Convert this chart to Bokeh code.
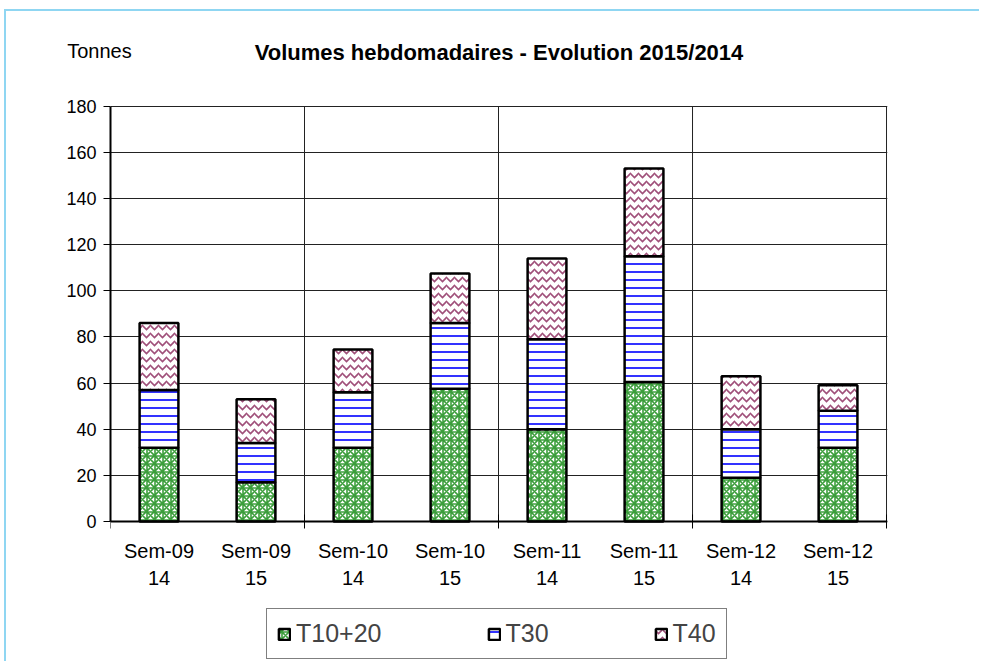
import math
from bokeh.plotting import figure
from bokeh.models import (ColumnDataSource, FixedTicker, Legend, LegendItem, Range1d,
                          LinearAxis, Span)
from bokeh.core.properties import value
from bokeh.embed import file_html
from bokeh.resources import INLINE

week_names = ["Sem-09", "Sem-09", "Sem-10", "Sem-10", "Sem-11", "Sem-11", "Sem-12", "Sem-12"]
year_names = ["14", "15", "14", "15", "14", "15", "14", "15"]
t1020 = [32, 17, 32, 57.5, 40, 60.5, 19, 32]
t30 = [25, 17, 24, 28.5, 39, 54.5, 21, 16]
t40 = [29, 19, 18.5, 21.5, 35, 38, 23, 11]
series = ["T10+20", "T30", "T40"]
y_ticks = [0, 20, 40, 60, 80, 100, 120, 140, 160, 180]
title_text = "Volumes hebdomadaires - Evolution 2015/2014"
unit_text = "Tonnes"

FONT = "Liberation Sans"
n = len(week_names)
xpos = [i + 0.5 for i in range(n)]
bounds = list(range(0, n + 1, 2))          # week boundaries (ticks / vertical lines)

# vertical layout: value axis occupies 416 px, area below holds labels and legend
Y_TOP = 180.3
UPX = Y_TOP / 416.0                         # data units per pixel
Y_BOTTOM = -140 * UPX

src = ColumnDataSource(data={"x": xpos, "T10+20": t1020, "T30": t30, "T40": t40})

p = figure(frame_width=777, frame_height=556, output_backend="svg", toolbar_location=None,
           x_range=Range1d(0, n + 0.01), y_range=Range1d(Y_BOTTOM, Y_TOP),
           x_axis_location=None,
           min_border_left=104, min_border_right=92, min_border_top=94, min_border_bottom=0)
p.title_location = None
p.outline_line_color = None
p.styles = {"margin-left": "4px", "margin-top": "9px",
            "border-left": "2px solid #8fd6f2", "border-top": "2px solid #8fd6f2"}

# vertical grid lines at week boundaries and right border, limited to the value area
inner = bounds[1:]
p.segment(x0=inner, y0=[y_ticks[0]] * len(inner), x1=inner, y1=[y_ticks[-1]] * len(inner),
          line_color="#222222", line_width=1)

hatches = ["*", "-", "v"]
hcolors = ["#3c9e3c", "#0000ff", "#a0507a"]
renderers = p.vbar_stack(series, x="x", width=0.4, source=src,
                         fill_color="white", line_color="black", line_width=2.5,
                         hatch_pattern=hatches, hatch_color=hcolors,
                         hatch_scale=8, hatch_weight=1.6)

# category axis: line, tick marks, two-line labels
p.add_layout(Span(location=0, dimension="width", line_color="black", line_width=2))
p.scatter(x=bounds, y=[0] * len(bounds), marker="dash", size=14, angle=math.pi / 2,
          line_color="black", line_width=1)
p.text(x=xpos, y=[-29 * UPX] * n, text=week_names, text_font=value(FONT),
       text_font_size="20px", text_align="center", text_baseline="middle", text_color="black")
p.text(x=xpos, y=[-56 * UPX] * n, text=year_names, text_font=value(FONT),
       text_font_size="20px", text_align="center", text_baseline="middle", text_color="black")

# y axis
p.yaxis.ticker = FixedTicker(ticks=y_ticks)
p.yaxis.bounds = (y_ticks[0], y_ticks[-1])
p.yaxis.major_label_text_font = FONT
p.yaxis.major_label_text_font_size = "18px"
p.yaxis.major_label_text_color = "black"
p.yaxis.major_tick_in = 0
p.yaxis.major_tick_out = 7
p.yaxis.major_tick_line_color = "black"
p.yaxis.minor_tick_line_color = None
p.yaxis.axis_line_width = 2
p.yaxis.axis_line_color = "black"
p.yaxis.major_label_standoff = 7

p.xgrid.visible = False
p.ygrid.ticker = FixedTicker(ticks=y_ticks)
p.ygrid.grid_line_color = "#222222"
p.ygrid.grid_line_width = 1

# header: unit label (tick label) and title (axis label) on an axis above the frame
p.extra_x_ranges = {"hdr": Range1d(0, 1)}
pad = "\u00a0" * 4  # shifts the centred unit label to the left of the frame edge
top = LinearAxis(x_range_name="hdr", ticker=FixedTicker(ticks=[0.0]),
                 major_label_overrides={0.0: unit_text + pad},
                 axis_line_color=None, major_tick_line_color=None, minor_tick_line_color=None,
                 major_tick_out=0, minor_tick_out=0,
                 major_label_standoff=44, major_label_text_font=FONT,
                 major_label_text_font_size="20px", major_label_text_color="black",
                 axis_label=title_text, axis_label_text_font=FONT,
                 axis_label_text_font_size="22px", axis_label_text_font_style="bold",
                 axis_label_text_color="black", axis_label_standoff=-28)
p.add_layout(top, "above")

legend = Legend(items=[LegendItem(label=s, renderers=[r]) for s, r in zip(series, renderers)],
                orientation="horizontal", location=(156, 2),
                label_text_font=FONT, label_text_font_size="25px",
                glyph_width=14, glyph_height=14, label_standoff=5, spacing=105,
                padding=10, margin=0, border_line_color="black", border_line_width=1,
                background_fill_alpha=1)
p.add_layout(legend, "center")

open("out.html", "w").write(file_html(p, INLINE))
